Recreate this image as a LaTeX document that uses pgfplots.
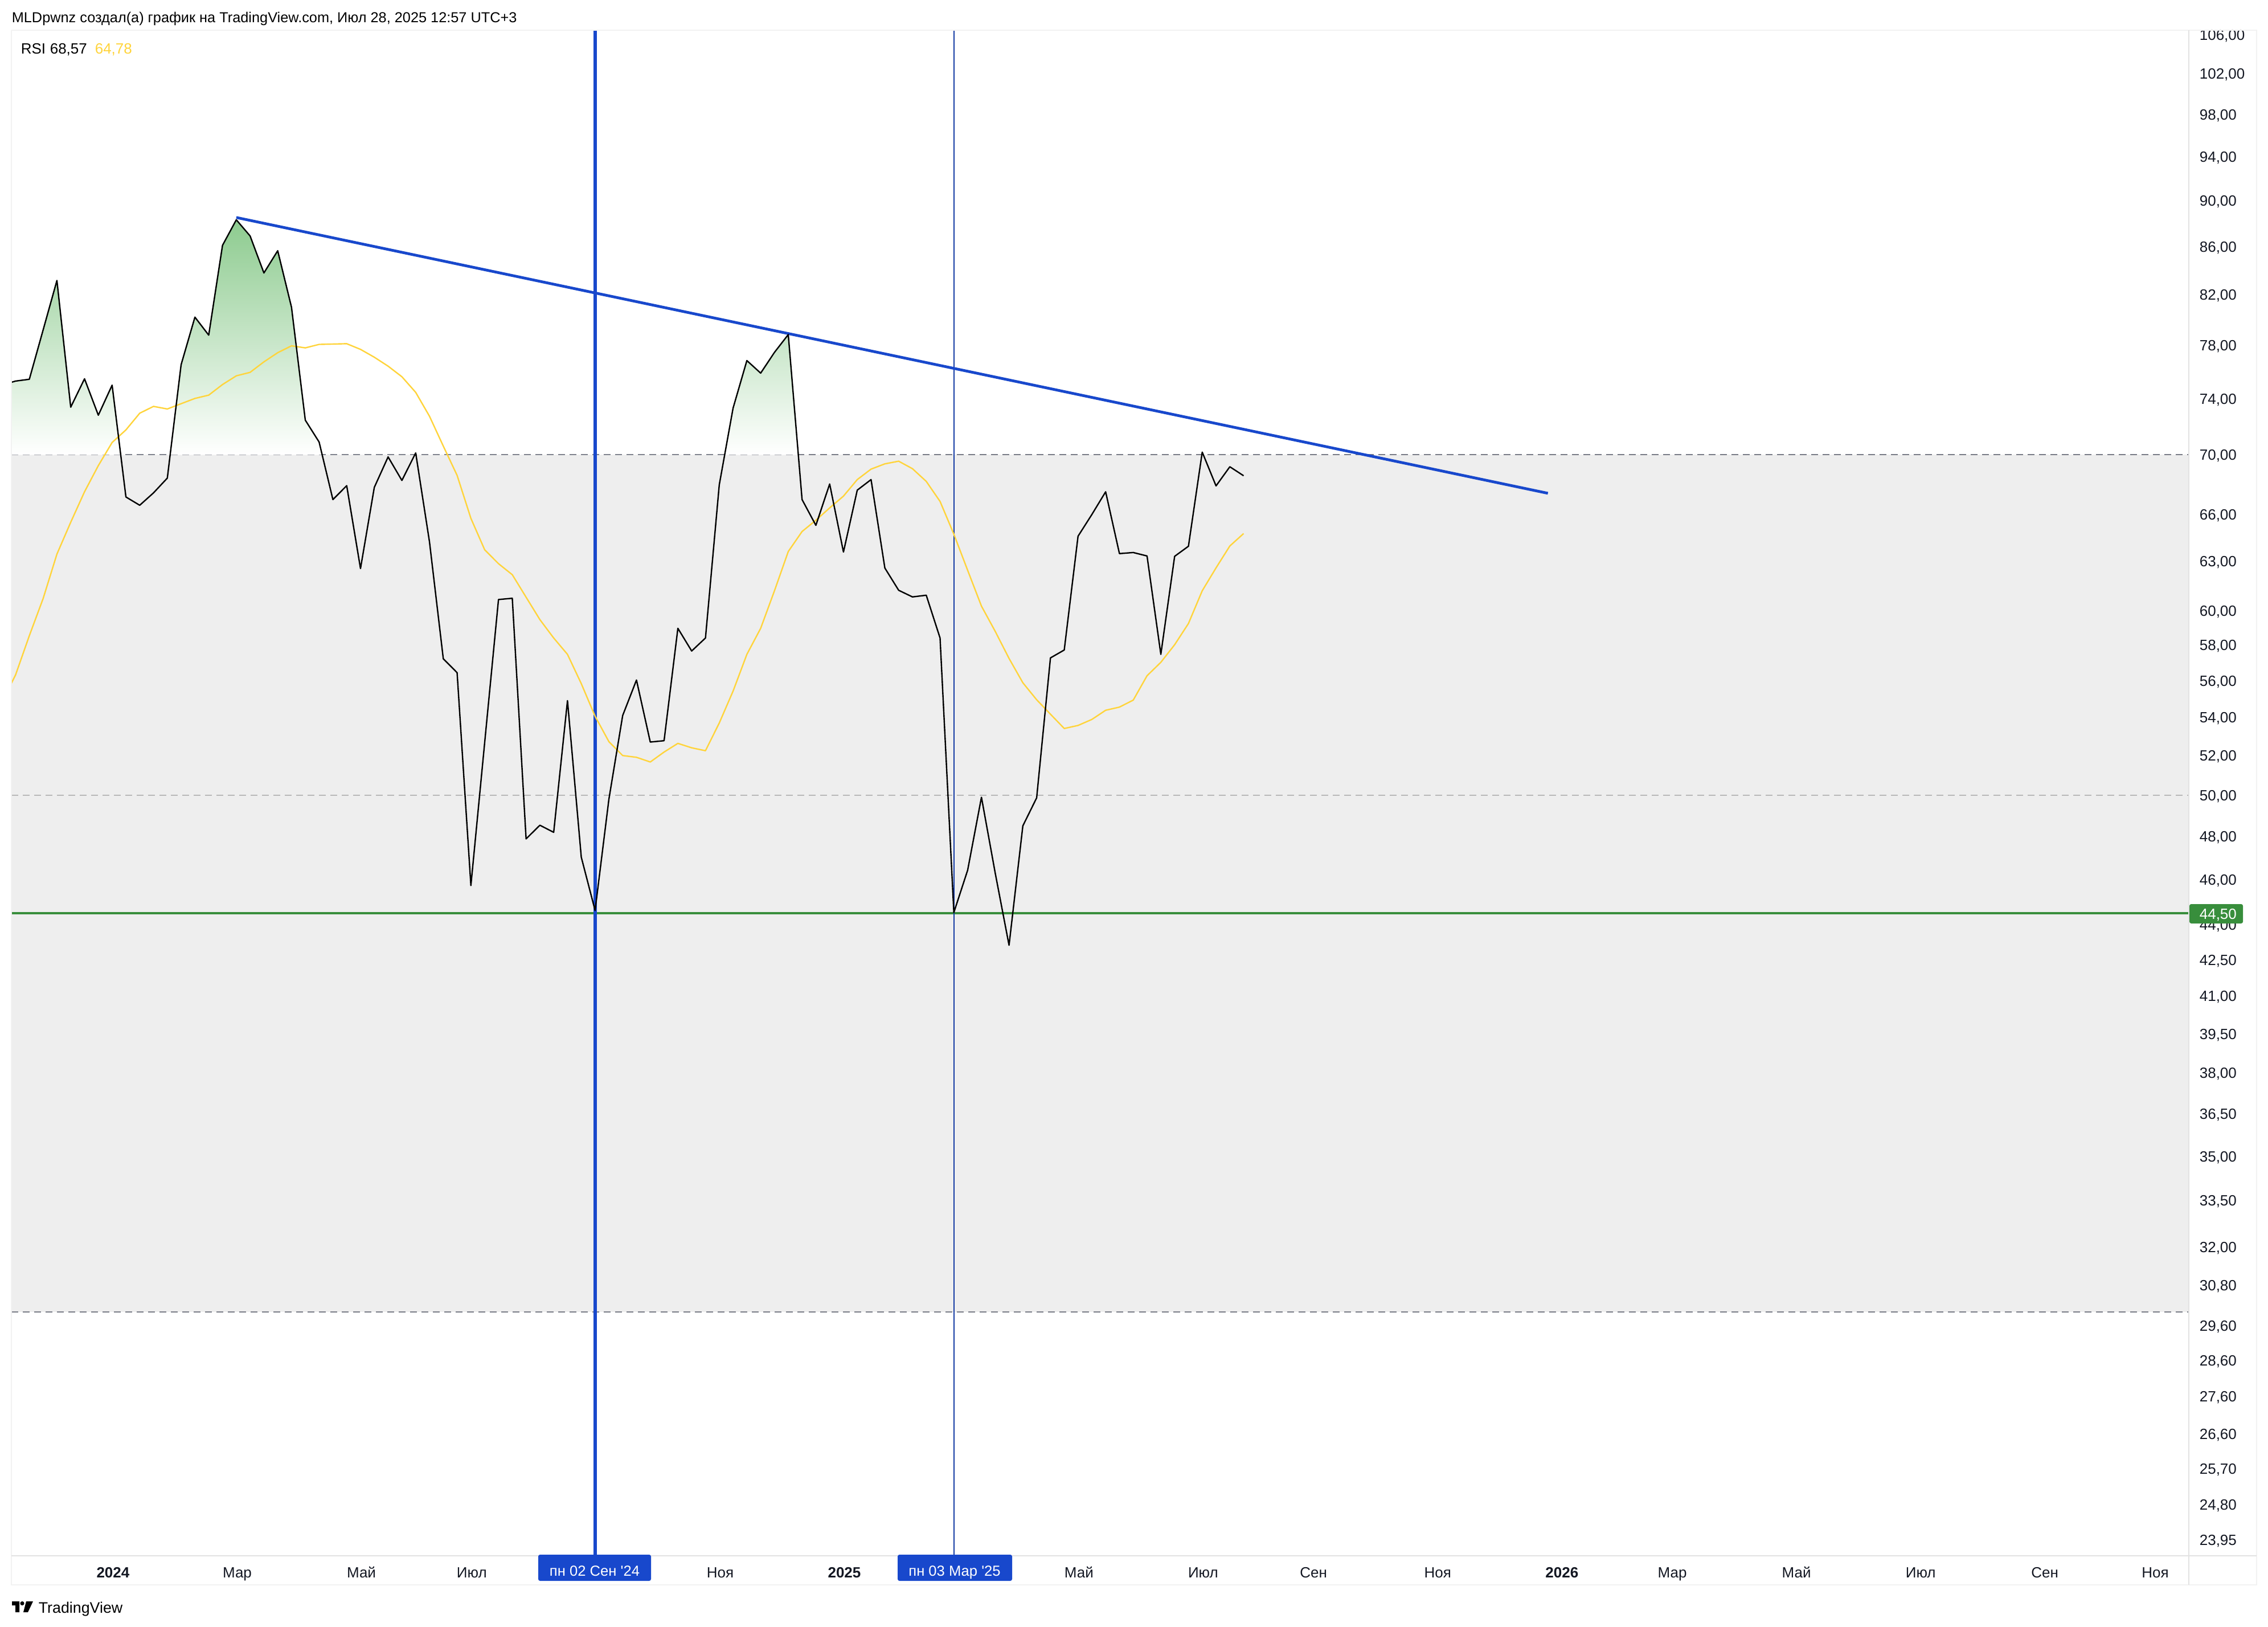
\documentclass[border=0pt]{standalone}
\usepackage{fontspec}
\setmainfont{Liberation Sans}
\newfontfamily\plainf{Liberation Sans}
\usepackage{pgfplots}
\usepackage{pgfplotstable}
\pgfplotsset{compat=1.18}
\definecolor{tvblue}{HTML}{1848CC}
\definecolor{tvgreen}{HTML}{388E3C}
\definecolor{tvyellow}{HTML}{FFD43B}
\definecolor{bandgray}{HTML}{EEEEEE}
\definecolor{dash1}{HTML}{787B86}
\definecolor{dash2}{HTML}{B8B8B8}
\definecolor{tvtext}{HTML}{131722}
\definecolor{peak}{HTML}{8DCB8F}
\definecolor{frameA}{HTML}{E2E2E2}
\definecolor{frameB}{HTML}{F2F2F2}
\pgfplotstableread{
w v
-8 75.0
-7 75.3
-6 75.43
-5 79.2
-4 83.16
-3 73.38
-2 75.47
-1 72.8
0 75.0
1 67.14
2 66.6
3 67.42
4 68.41
5 76.53
6 80.2
7 78.8
8 86.1
9 88.3
10 86.9
11 83.78
12 85.64
13 80.99
14 72.44
15 70.89
16 66.97
17 67.9
18 62.56
19 67.78
20 69.86
21 68.25
22 70.13
23 64.23
24 57.22
25 56.44
26 45.73
27 52.68
28 60.67
29 60.75
30 47.89
31 48.54
32 48.2
33 54.9
34 47.03
35 44.62
36 49.8
37 54.1
38 56.03
39 52.7
40 52.77
41 58.97
42 57.66
43 58.41
44 67.96
45 73.31
46 76.84
47 75.89
48 77.47
49 78.85
50 66.97
51 65.29
52 68.01
53 63.59
54 67.6
55 68.31
56 62.59
57 61.23
58 60.83
59 60.93
60 58.41
61 44.53
62 46.43
63 49.9
64 46.29
65 43.11
66 48.51
67 49.87
68 57.27
69 57.72
70 64.59
71 65.99
72 67.49
73 63.49
74 63.56
75 63.34
76 57.47
77 63.32
78 63.95
79 70.19
80 67.88
81 69.18
82 68.57
}\rsi
\pgfplotstableread{
w v
-8 54.8
-7 56.31
-6 58.54
-5 60.73
-4 63.46
-3 65.49
-2 67.49
-1 69.26
0 70.86
1 71.75
2 72.94
3 73.44
4 73.25
5 73.63
6 74.01
7 74.26
8 75.04
9 75.69
10 75.95
11 76.74
12 77.44
13 77.97
14 77.81
15 78.07
16 78.1
17 78.14
18 77.7
19 77.1
20 76.41
21 75.62
22 74.46
23 72.72
24 70.61
25 68.6
26 65.74
27 63.73
28 62.86
29 62.18
30 60.81
31 59.48
32 58.41
33 57.47
34 55.83
35 54.06
36 52.72
37 52.0
38 51.91
39 51.67
40 52.18
41 52.63
42 52.4
43 52.25
44 53.7
45 55.42
46 57.47
47 58.97
48 61.2
49 63.62
50 64.89
51 65.62
52 66.42
53 67.2
54 68.31
55 69.02
56 69.38
57 69.56
58 69.05
59 68.19
60 66.85
61 64.72
62 62.45
63 60.28
64 58.79
65 57.24
66 55.88
67 54.95
68 54.17
69 53.41
70 53.57
71 53.89
72 54.38
73 54.55
74 54.93
75 56.27
76 57.02
77 58.02
78 59.25
79 61.2
80 62.6
81 63.97
82 64.76
}\rsima
\pgfplotstableread{
w v
-8 70
-8 75.0
-7 75.3
-6 75.43
-5 79.2
-4 83.16
-3 73.38
-2 75.47
-1 72.8
0 75.0
0.62 70
4.2 70
5 76.53
6 80.2
7 78.8
8 86.1
9 88.3
10 86.9
11 83.78
12 85.64
13 80.99
14 72.44
15 70.89
15.22 70
44.39 70
45 73.31
46 76.84
47 75.89
48 77.47
49 78.85
49.73 70
}\over
\begin{document}
\begin{tikzpicture}[x=1pt,y=1pt]
\path[use as bounding box,fill=white] (0,0) rectangle (995.5,-714);
\begin{axis}[
  at={(5pt,-682.75pt)},anchor=south west,
  scale only axis,width=955.75pt,height=669.5pt,
  ymode=log,
  xmin=-7.3,xmax=150.5,ymin=23.58,ymax=106.5,
  clip mode=individual,
  axis line style={draw=none},
  major tick length=0pt,minor tick length=0pt,
  tick style={draw=none},
  xtick={0,9,18,26,44,53,70,79,87,96,105,113,122,131,140,148},
  xticklabels={\textbf{2024},Мар,Май,Июл,Ноя,\textbf{2025},Май,Июл,Сен,Ноя,\textbf{2026},Мар,Май,Июл,Сен,Ноя},
  xticklabel style={anchor=base,xshift=0.4pt,yshift=-9.6pt,inner sep=0pt,font=\fontsize{6.5}{8}\selectfont,text=tvtext},
  ytick={23.95,24.8,25.7,26.6,27.6,28.6,29.6,30.8,32,33.5,35,36.5,38,39.5,41,42.5,44,46,48,50,52,54,56,58,60,63,66,70,74,78,82,86,90,94,98,102,106},
  yticklabels={{23,95},{24,80},{25,70},{26,60},{27,60},{28,60},{29,60},{30,80},{32,00},{33,50},{35,00},{36,50},{38,00},{39,50},{41,00},{42,50},{44,00},{46,00},{48,00},{50,00},{52,00},{54,00},{56,00},{58,00},{60,00},{63,00},{66,00},{70,00},{74,00},{78,00},{82,00},{86,00},{90,00},{94,00},{98,00},{102,00},{106,00}},
  yticklabel pos=right,
  yticklabel style={anchor=west,xshift=4.5pt,yshift=-0.5pt,inner sep=0pt,font=\fontsize{6.5}{8}\selectfont,text=tvtext},
]
\addplot[draw=none,fill=bandgray,forget plot] coordinates {(-7.3,30)(150.5,30)(150.5,70)(-7.3,70)} -- cycle;
\addplot[dash1,line width=0.5pt,dash pattern=on 3pt off 2pt,forget plot] coordinates {(-7.3,70)(150.5,70)};
\addplot[dash1,line width=0.5pt,dash pattern=on 3pt off 2pt,forget plot] coordinates {(-7.3,30)(150.5,30)};
\addplot[dash2,line width=0.5pt,dash pattern=on 3pt off 2pt,forget plot] coordinates {(-7.3,50)(150.5,50)};
\addplot[draw=none,top color=peak,bottom color=white,forget plot] table[x=w,y=v] {\over} -- cycle;
\addplot[tvgreen,line width=1.1pt,forget plot] coordinates {(-7.3,44.5)(150.5,44.5)};
\addplot[tvblue,line width=1.4pt,forget plot] coordinates {(35,23.58)(35,106.5)};
\addplot[tvblue!80!black,line width=0.4pt,forget plot] coordinates {(61,23.58)(61,106.5)};
\addplot[tvblue,line width=1.2pt,forget plot] coordinates {(9,88.5)(104.05,67.39)};
\addplot[tvyellow,line width=0.6pt,line join=round,forget plot] table[x=w,y=v] {\rsima};
\addplot[black,line width=0.6pt,line join=round,forget plot] table[x=w,y=v] {\rsi};
\end{axis}
\begin{scope}[x=0.25pt,y=-0.25pt]
 % frame
 \draw[frameB,line width=0.5pt] (20,53)--(3843,53);
 \draw[frameB,line width=0.5pt] (20,53)--(20,2782)--(3962,2782)--(3962,53)--(3843,53);
 \draw[frameA,line width=0.5pt] (3843,53)--(3843,2782);
 \draw[frameA,line width=0.5pt] (20,2731)--(3962,2731);
 % title
 \node[anchor=base west,inner sep=0pt,font=\fontsize{6.33}{8}\selectfont,text=black] at (20,40) {MLDpwnz создал(а) график на TradingView.com, Июл 28, 2025 12:57 UTC+3};
 % legend
 \node[anchor=base west,inner sep=0pt,font=\fontsize{6.5}{8}\selectfont,text=black] at (36,95) {RSI};
 \node[anchor=base west,inner sep=0pt,font=\fontsize{6.5}{8}\selectfont,text=black] at (87,95) {68,57};
 \node[anchor=base west,inner sep=0pt,font=\fontsize{6.5}{8}\selectfont,text=tvyellow] at (166,95) {64,78};
 % date boxes
 \fill[tvblue,rounded corners=0.8pt] (945,2729)--(945,2775)--(1143,2775)--(1143,2729)--cycle;
 \node[anchor=base,inner sep=0pt,font=\plainf\fontsize{6.4}{8}\selectfont,text=white] at (1044,2766) {пн 02 Сен '24};
 \fill[tvblue,rounded corners=0.8pt] (1576,2729)--(1576,2775)--(1777,2775)--(1777,2729)--cycle;
 \node[anchor=base,inner sep=0pt,font=\plainf\fontsize{6.4}{8}\selectfont,text=white] at (1676,2766) {пн 03 Мар '25};
 % price label
 \fill[tvgreen,rounded corners=0.8pt] (3844,1587)--(3938,1587)--(3938,1621)--(3844,1621)--cycle;
 \node[anchor=base west,inner sep=0pt,font=\fontsize{6.5}{8}\selectfont,text=white] at (3861,1613) {44,50};
 % logo
 \fill[black] (21,2811)--(34,2811)--(34,2830)--(27,2830)--(27,2818)--(21,2818)--cycle;
 \fill[black] (39,2814.5) circle[radius=0.9pt];
 \fill[black] (46,2811)--(58,2811)--(49,2830)--(41,2830)--cycle;
 \node[anchor=base west,inner sep=0pt,font=\fontsize{6.7}{8}\selectfont,text=black] at (67,2831) {TradingView};
\end{scope}
\end{tikzpicture}
\end{document}
